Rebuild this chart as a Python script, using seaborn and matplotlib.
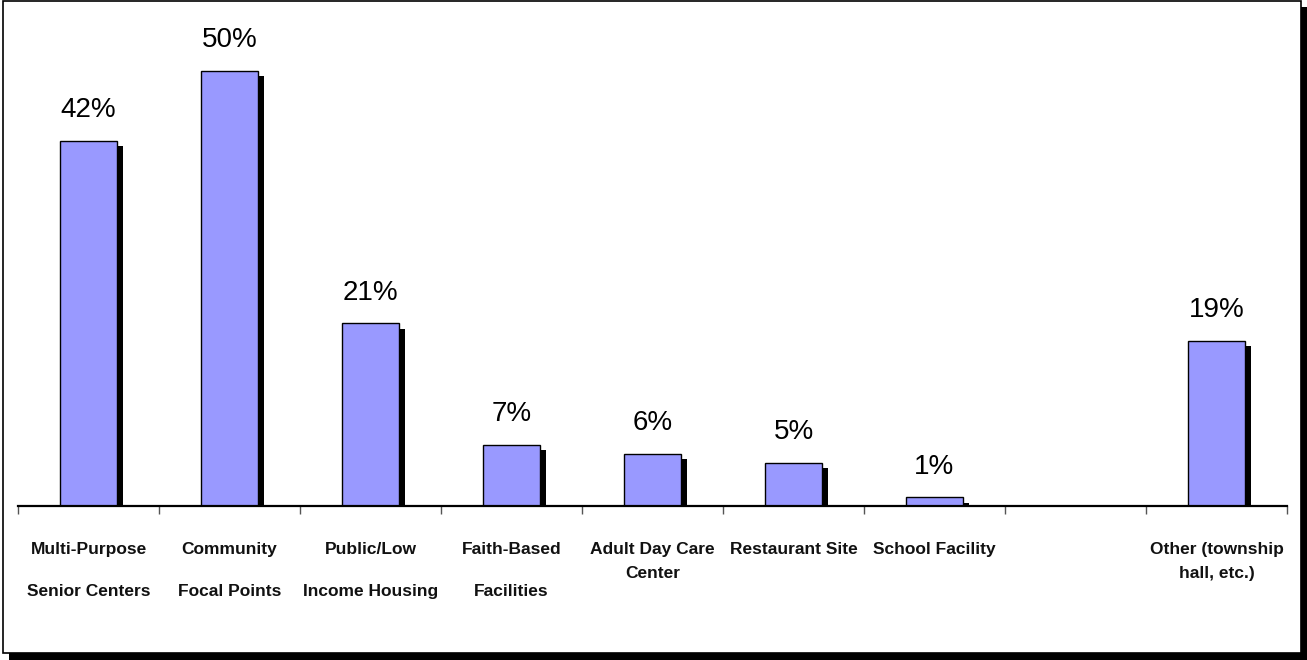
import numpy as np
import pandas as pd
import matplotlib
matplotlib.use("Agg")
import matplotlib.pyplot as plt
import matplotlib.patheffects as pe
from matplotlib.patches import Rectangle
import seaborn as sns

# Meal-site location types (the blank slot keeps a gap before "Other")
sites = [
    "Multi-Purpose\nSenior Centers",
    "Community\nFocal Points",
    "Public/Low\nIncome Housing",
    "Faith-Based\nFacilities",
    "Adult Day Care\nCenter",
    "Restaurant Site",
    "School Facility",
    "",
    "Other (township\nhall, etc.)",
]
percent = [42, 50, 21, 7, 6, 5, 1, np.nan, 19]
value_labels = ["42%", "50%", "21%", "7%", "6%", "5%", "1%", "", "19%"]

sns.set_theme(style="white")
plt.rcParams["font.family"] = ["Liberation Sans", "DejaVu Sans"]

W, H = 1307, 660
fig = plt.figure(figsize=(W / 100, H / 100), dpi=100)
fig.patch.set_facecolor("white")

# Framed panel with a drop shadow, kept behind the axes
fig.patches.append(Rectangle((9 / W, 0), 1298 / W, 653 / H, transform=fig.transFigure,
                             facecolor="black", edgecolor="none", zorder=-2))
fig.patches.append(Rectangle((3 / W, 7 / H), 1298 / W, 652 / H, transform=fig.transFigure,
                             facecolor="white", edgecolor="black", linewidth=1.2, zorder=-1))

ax = fig.add_axes([18 / W, (H - 506) / H, 1269 / W, 55 * 8.7 / H])
ax.patch.set_alpha(0)

df = pd.DataFrame({"site": [f"s{i}" for i in range(len(sites))], "pct": percent})
sns.barplot(data=df, x="site", y="pct", order=list(df["site"]), color="#9999FF",
            saturation=1, edgecolor="black", linewidth=1.0, width=0.41, ax=ax)

for bar in ax.patches:
    bar.set_path_effects([pe.SimplePatchShadow(offset=(3.8, -3.8), shadow_rgbFace="black", alpha=1.0),
                          pe.Normal()])

ax.set_xlim(-0.5, len(sites) - 0.5)
ax.set_ylim(0, 55)

for i, (v, lab) in enumerate(zip(percent, value_labels)):
    if np.isnan(v):
        continue
    ax.annotate(lab, xy=(i, v), xytext=(0, 17), textcoords="offset points",
                ha="center", va="baseline", fontsize=20, color="black")

for s in ["top", "left", "right"]:
    ax.spines[s].set_visible(False)
ax.spines["bottom"].set_color("black")
ax.spines["bottom"].set_linewidth(1.6)
ax.set_yticks([])
ax.set_xlabel("")
ax.set_ylabel("")

ax.set_xticks(range(len(sites)))
ax.set_xticklabels(sites, fontsize=12.5, fontweight="bold", color="#111111")
ax.set_xticks(np.arange(-0.5, len(sites), 1.0), minor=True)
ax.tick_params(axis="x", which="major", length=0, pad=26)
ax.tick_params(axis="x", which="minor", length=6, width=1.0, color="#555555", direction="out", bottom=True)

for i, t in enumerate(ax.get_xticklabels()):
    t.set_linespacing(3.2 if i < 4 else 1.75)

fig.savefig("out.png", dpi=100, facecolor="white")
